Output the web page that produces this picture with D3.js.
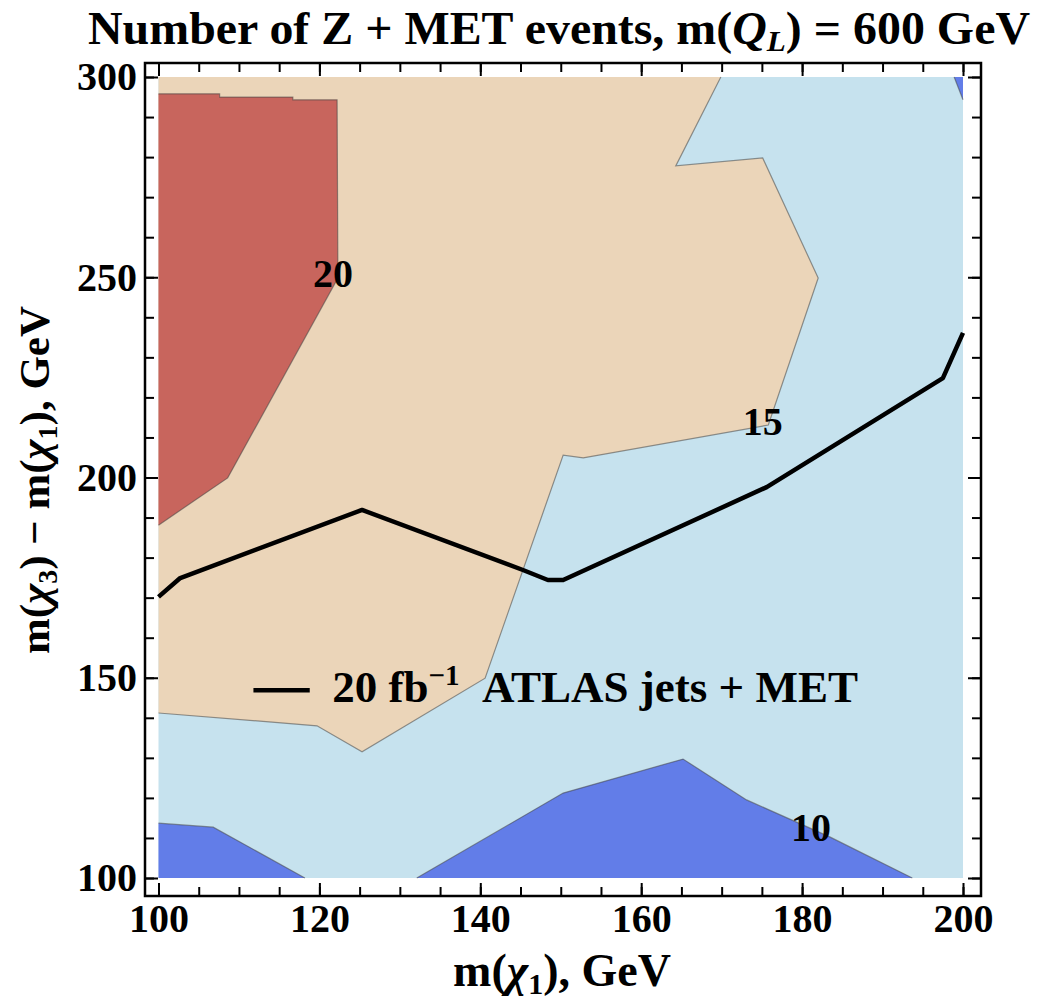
<!DOCTYPE html>
<html>
<head>
<meta charset="utf-8">
<script src="https://cdn.jsdelivr.net/npm/d3@7"></script>
<style>
  body { margin: 0; background: #fff; }
  text { font-family: "Liberation Serif", "Times New Roman", serif; font-weight: bold; }
</style>
</head>
<body>
<div class="chart"></div>
<script>
// contour lines: [m(chi1), m(chi3) - m(chi1)] in GeV
const contour20 = [[100,295.8],[107.6,295.8],[107.6,295.0],[116.7,295.0],[116.7,294.3],[122.2,294.3],[122.3,249.8],[108.6,199.9],[100,188.1]];
const contour15 = [[169.9,300],[164.3,277.8],[175.1,279.8],[182.0,249.8],[175.8,213.1],[152.8,204.9],[150.3,205.6],[140.6,149.9],[125.3,131.5],[119.7,138.0],[100,141.2]];
const contour10a = [[100,113.7],[106.8,112.7],[118.2,100]];
const contour10b = [[132.1,100],[150.3,121.2],[165.2,129.7],[173.1,119.5],[183.5,110.2],[193.7,100]];
const contour10c = [[198.9,300],[200,294.3]];
// 20 fb^-1 ATLAS jets + MET limit
const atlasLine = [[100,170.2],[102.7,174.9],[125.3,191.9],[145.3,176.9],[148.4,174.4],[150.3,174.4],[175.6,197.6],[197.5,224.8],[200,236.1]];
const contourLabels = ['20', '15', '10'];
const contourLabelPos = [[121.7,251],[175.1,214.1],[181.1,112.7]];
const xTicks = [100, 120, 140, 160, 180, 200];
const yTicks = [100, 150, 200, 250, 300];
const xDomain = [100, 200];
const yDomain = [100, 300];

/******************** 색상 ********************/
const colors = {c20: '#C8655D', c15: '#EBD5B9', c10: '#C6E2EE', c0: '#627DE8'};

/******************** 크기 ********************/
const W = 1055, H = 1000;
const frame = {left: 145, right: 981, top: 63, bottom: 896};
const x = d3.scaleLinear(xDomain, [158.5, 963]);
const y = d3.scaleLinear(yDomain, [878, 77]);

const svg = d3.select('.chart').append('svg')
  .attr('width', W)
  .attr('height', H);

// 영역 채우기
const line = d3.line().x(d => x(d[0])).y(d => y(d[1]));
const regions = [
  {pts: [[xDomain[0], yDomain[0]], [xDomain[1], yDomain[0]], [xDomain[1], yDomain[1]], [xDomain[0], yDomain[1]]], fill: colors.c10},
  {pts: contour15.concat([[xDomain[0], yDomain[1]]]), fill: colors.c15},
  {pts: contour20, fill: colors.c20},
  {pts: contour10a.concat([[xDomain[0], yDomain[0]]]), fill: colors.c0},
  {pts: contour10b, fill: colors.c0},
  {pts: contour10c.concat([[xDomain[1], yDomain[1]]]), fill: colors.c0}
];
svg.append('g')
  .selectAll('path')
  .data(regions)
  .join('path')
    .attr('d', d => line(d.pts) + 'Z')
    .attr('fill', d => d.fill);

// 등고선
svg.append('g')
  .selectAll('path')
  .data([contour20, contour15, contour10a, contour10b, contour10c])
  .join('path')
    .attr('d', line)
    .attr('fill', 'none')
    .attr('stroke', 'rgba(70,70,70,0.55)')
    .attr('stroke-width', 1.2);

// ATLAS 선
svg.append('path')
  .attr('d', line(atlasLine))
  .attr('fill', 'none')
  .attr('stroke', '#000')
  .attr('stroke-width', 4.5)
  .attr('stroke-linejoin', 'round');

// 등고선 레이블
svg.append('g')
  .selectAll('text')
  .data(contourLabels)
  .join('text')
    .attr('x', (d, i) => x(contourLabelPos[i][0]))
    .attr('y', (d, i) => y(contourLabelPos[i][1]))
    .attr('dy', '0.35em')
    .attr('text-anchor', 'middle')
    .attr('font-size', 40)
    .text(d => d);

/******************** 범례 ********************/
svg.append('line')
  .attr('x1', x(111.8)).attr('x2', x(118.8))
  .attr('y1', y(146.9)).attr('y2', y(146.9))
  .attr('stroke', '#000')
  .attr('stroke-width', 4.5);
const leg = svg.append('text')
  .attr('x', x(121.6))
  .attr('y', y(146.9) + 12)
  .attr('font-size', 45);
leg.append('tspan').text('20 fb');
leg.append('tspan').attr('font-size', 29).attr('dy', -17).text('−1');
svg.append('text')
  .attr('x', x(140.2))
  .attr('y', y(146.9) + 12)
  .attr('font-size', 45)
  .text('ATLAS jets + MET');

/******************** 축 ********************/
const minorX = d3.range(100, 201, 5);
const minorY = d3.range(100, 301, 10);
const axes = [
  {axis: d3.axisBottom, scale: x, pos: `translate(0,${frame.bottom})`, minor: minorX, major: xTicks, label: true},
  {axis: d3.axisTop, scale: x, pos: `translate(0,${frame.top})`, minor: minorX, major: xTicks, label: false},
  {axis: d3.axisLeft, scale: y, pos: `translate(${frame.left},0)`, minor: minorY, major: yTicks, label: true},
  {axis: d3.axisRight, scale: y, pos: `translate(${frame.right},0)`, minor: minorY, major: yTicks, label: false}
];
axes.forEach(a => {
  svg.append('g')
    .attr('transform', a.pos)
    .call(a.axis(a.scale).tickValues(a.minor).tickSize(-9).tickFormat(''))
    .call(g => g.select('.domain').remove())
    .selectAll('line').attr('stroke-width', 2);
  svg.append('g')
    .attr('transform', a.pos)
    .call(a.axis(a.scale).tickValues(a.major).tickSize(-13).tickPadding(8).tickFormat(a.label ? d3.format('d') : ''))
    .attr('font-size', 40)
    .attr('font-family', null)
    .call(g => g.select('.domain').remove())
    .call(g => g.selectAll('line').attr('stroke-width', 2))
    .selectAll('text').attr('fill', '#000');
});

// 프레임
svg.append('rect')
  .attr('x', frame.left).attr('y', frame.top)
  .attr('width', frame.right - frame.left)
  .attr('height', frame.bottom - frame.top)
  .attr('fill', 'none')
  .attr('stroke', '#000')
  .attr('stroke-width', 2.5);

/******************** 제목, 축 제목 ********************/
const title = svg.append('text')
  .attr('x', 559).attr('y', 44)
  .attr('text-anchor', 'middle')
  .attr('font-size', 46)
  .attr('textLength', 942)
  .attr('lengthAdjust', 'spacingAndGlyphs');
title.append('tspan').text('Number of Z + MET events, m(');
title.append('tspan').attr('font-style', 'italic').text('Q');
title.append('tspan').attr('font-style', 'italic').attr('font-size', 30).attr('dy', 7).text('L');
title.append('tspan').attr('dy', -7).text(') = 600 GeV');

const xLab = svg.append('text')
  .attr('x', 562).attr('y', 986)
  .attr('text-anchor', 'middle')
  .attr('font-size', 46);
xLab.append('tspan').text('m(');
xLab.append('tspan').attr('font-style', 'italic').text('χ');
xLab.append('tspan').attr('font-size', 30).attr('dy', 8).text('1');
xLab.append('tspan').attr('dy', -8).text('), GeV');

const yLab = svg.append('text')
  .attr('transform', 'translate(49,480) rotate(-90)')
  .attr('text-anchor', 'middle')
  .attr('font-size', 43);
yLab.append('tspan').text('m(');
yLab.append('tspan').attr('font-style', 'italic').text('χ');
yLab.append('tspan').attr('font-size', 28).attr('dy', 8).text('3');
yLab.append('tspan').attr('dy', -8).text(') − m(');
yLab.append('tspan').attr('font-style', 'italic').text('χ');
yLab.append('tspan').attr('font-size', 28).attr('dy', 8).text('1');
yLab.append('tspan').attr('dy', -8).text('), GeV');
</script>
</body>
</html>
